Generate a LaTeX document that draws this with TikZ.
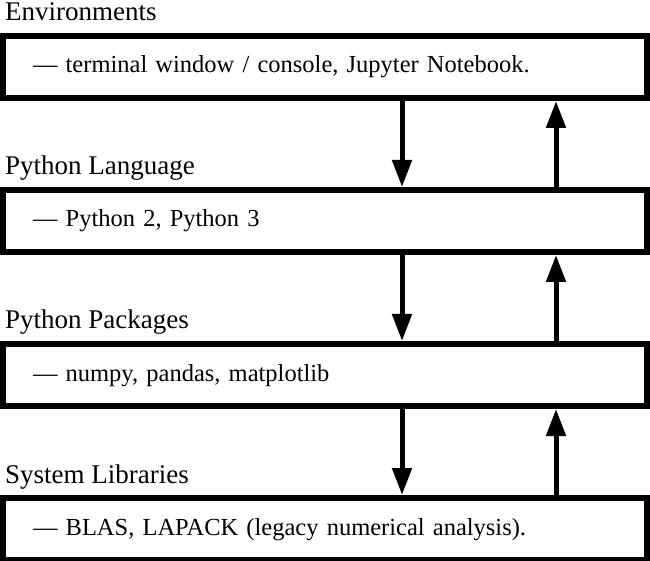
\documentclass[tikz,border=0pt]{standalone}
\usepackage{fontspec}
\setmainfont{Liberation Serif}
\usetikzlibrary{arrows.meta}

\tikzset{
  layerbox/.style={draw, line width=6pt, minimum width=644pt, minimum height=62pt,
    text width=584pt, inner xsep=30pt, align=left, text height=17pt, text depth=5pt,
    font=\fontsize{24.5}{28}\selectfont},
  layerlabel/.style={anchor=base west, inner sep=0pt, font=\fontsize{27}{30}\selectfont},
  flow/.style={line width=5pt, -{Triangle[width=19pt,length=27pt]}}
}

\begin{document}
\begin{tikzpicture}[x=1pt,y=1pt]
    \useasboundingbox (0,0) rectangle (650,560);

    % Layer labels
    \node[layerlabel] (envlabel)  at (5,539) {Environments};
    \node[layerlabel] (langlabel) at (5,385) {Python Language};
    \node[layerlabel] (pkglabel)  at (5,231) {Python Packages};
    \node[layerlabel] (syslabel)  at (5,77)  {System Libraries};

    % Layer boxes
    \node[layerbox] (env)  at (325,493) {--- terminal window / console, Jupyter Notebook.};
    \node[layerbox] (lang) at (325,339) {--- Python 2, Python 3};
    \node[layerbox] (pkg)  at (325,185) {--- numpy, pandas, matplotlib};
    \node[layerbox] (sys)  at (325,31)  {--- BLAS, LAPACK (legacy numerical analysis).};

    % Calls down
    \draw[flow] ([xshift=77pt]env.south) -- ([xshift=77pt]lang.north);
    \draw[flow] ([xshift=77pt]lang.south) -- ([xshift=77pt]pkg.north);
    \draw[flow] ([xshift=77pt]pkg.south) -- ([xshift=77pt]sys.north);

    % Results up
    \draw[flow] ([xshift=231pt]lang.north) -- ([xshift=231pt]env.south);
    \draw[flow] ([xshift=231pt]pkg.north) -- ([xshift=231pt]lang.south);
    \draw[flow] ([xshift=231pt]sys.north) -- ([xshift=231pt]pkg.south);

\end{tikzpicture}
\end{document}
